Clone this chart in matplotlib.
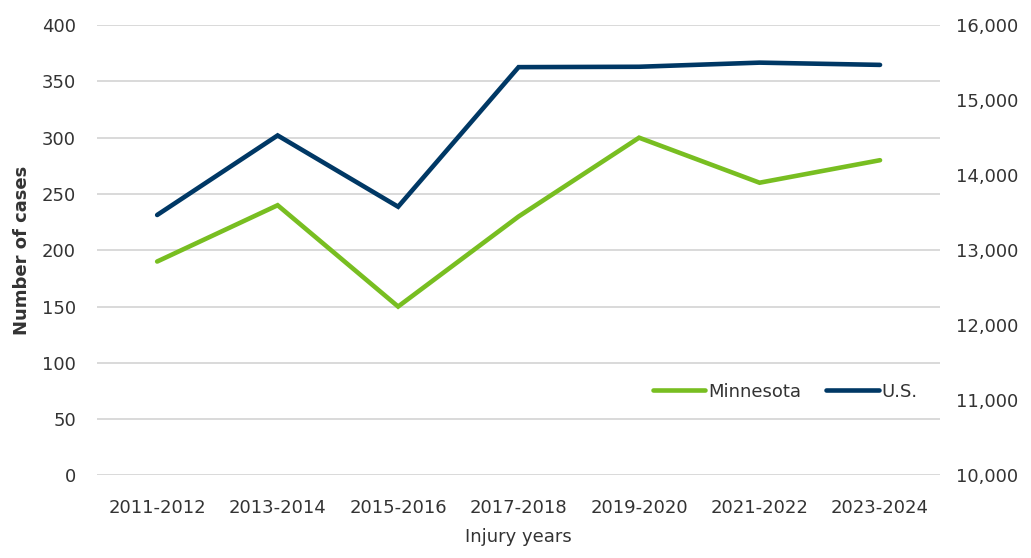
#!/usr/bin/env python3
# Minnesota vs U.S. case counts by injury years (dual axis line chart)
import matplotlib
matplotlib.use('Agg')
import matplotlib.pyplot as plt
from matplotlib.ticker import FuncFormatter

#-------------------------------------------------------------------------#
# Data                                                                    #
#-------------------------------------------------------------------------#
years       = ['2011-2012', '2013-2014', '2015-2016', '2017-2018',
               '2019-2020', '2021-2022', '2023-2024']
minnesota   = [190, 240, 150, 230, 300, 260, 280]
us          = [13470, 14530, 13580, 15440, 15445, 15500, 15470]

#-------------------------------------------------------------------------#
# Plot settings                                                           #
#-------------------------------------------------------------------------#
plt.rcParams['font.family'] = ['DejaVu Sans']
plt.rcParams['font.size'] = 13
txt_color   = '#333333'
green       = '#78BE21'
navy        = '#003865'

fig = plt.figure(figsize=(10.31, 5.58), dpi=100)
ax  = fig.add_axes([0.094, 0.148, 0.818, 0.807])
ax2 = ax.twinx()

x = list(range(len(years)))
l1, = ax.plot(x, minnesota, color=green, lw=3.3, solid_capstyle='round',
              solid_joinstyle='miter', label='Minnesota', zorder=3)
l2, = ax2.plot(x, us, color=navy, lw=3.3, solid_capstyle='round',
               solid_joinstyle='miter', label='U.S.', zorder=3)

ax.set_xlim(-0.5, len(years) - 0.5)
ax.set_ylim(0, 400)
ax.set_yticks(range(0, 401, 50))
ax2.set_ylim(10000, 16000)
ax2.set_yticks(range(10000, 16001, 1000))
ax2.yaxis.set_major_formatter(FuncFormatter(lambda v, p: '{:,.0f}'.format(v)))

ax.set_xticks(x)
ax.set_xticklabels(years)
ax.grid(axis='y', color='#d9d9d9', lw=1.4)
ax.set_axisbelow(True)

for a in (ax, ax2):
    for s in a.spines.values():
        s.set_visible(False)
    a.tick_params(length=0, colors=txt_color, labelsize=13)
ax.tick_params(axis='x', pad=17)
ax.tick_params(axis='y', pad=15)
ax2.tick_params(axis='y', pad=11)

ax.set_ylabel('Number of cases', color=txt_color, fontsize=13,
              fontweight='bold', labelpad=8)
ax.set_xlabel('Injury years', color=txt_color, fontsize=13, labelpad=8)

leg = ax.legend(handles=[l1, l2], loc='center right',
                bbox_to_anchor=(0.973, 0.186), frameon=False, ncol=2,
                borderpad=0, borderaxespad=0,
                handlelength=2.9, handletextpad=0.15, columnspacing=1.4,
                fontsize=13)
for t in leg.get_texts():
    t.set_color(txt_color)

plt.savefig('out.png', dpi=100)
plt.close()
